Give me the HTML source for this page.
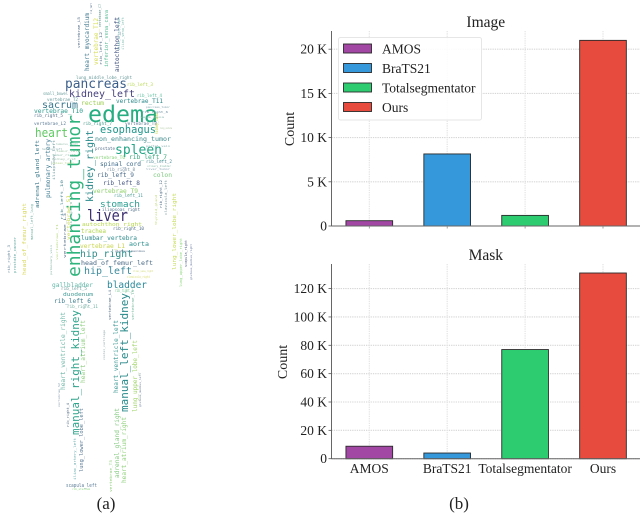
<!DOCTYPE html>
<html lang="en">
<head>
<meta charset="utf-8">
<title>Word cloud and dataset count charts</title>
<style>
html,body{margin:0;padding:0;background:#fff;}
#figure{position:relative;width:640px;height:513px;overflow:hidden;background:#fff;}
svg{position:absolute;left:0;top:0;}
#cloud text{font-family:"DejaVu Sans Mono","Liberation Mono",monospace;}
#charts text,.cap{font-family:"Liberation Serif",serif;fill:#222;}
</style>
</head>
<body>
<div id="figure">
<svg width="640" height="513" viewBox="0 0 640 513">
<defs>
<filter id="soft" filterUnits="userSpaceOnUse" x="0" y="0" width="640" height="513"><feGaussianBlur stdDeviation="0.35"/></filter>
<filter id="softer" filterUnits="userSpaceOnUse" x="0" y="0" width="640" height="513"><feGaussianBlur stdDeviation="0.25"/></filter>
</defs>
<g id="cloud" filter="url(#soft)">
<text transform="translate(88,122)" font-size="23" textLength="70" lengthAdjust="spacingAndGlyphs" fill="#27ad81">edema</text>
<text transform="translate(80,277) rotate(-90)" font-size="18" textLength="162" lengthAdjust="spacingAndGlyphs" fill="#2fb47c">enhancing_tumor</text>
<text transform="translate(65,88)" font-size="13" textLength="62" lengthAdjust="spacingAndGlyphs" fill="#3b5f8a">pancreas</text>
<text transform="translate(69,97)" font-size="10" textLength="66" lengthAdjust="spacingAndGlyphs" fill="#46407e">kidney_left</text>
<text transform="translate(42,108)" font-size="10" textLength="36" lengthAdjust="spacingAndGlyphs" fill="#35768c">sacrum</text>
<text transform="translate(81,105)" font-size="6" textLength="23" lengthAdjust="spacingAndGlyphs" fill="#9ccf50">rectum</text>
<text transform="translate(116,103)" font-size="6" textLength="47" lengthAdjust="spacingAndGlyphs" fill="#2f8a8c">vertebrae_T11</text>
<text transform="translate(34,113)" font-size="6" textLength="49" lengthAdjust="spacingAndGlyphs" fill="#2a9a8c">vertebrae_T10</text>
<text transform="translate(100,133)" font-size="11" textLength="56" lengthAdjust="spacingAndGlyphs" fill="#1f968b">esophagus</text>
<text transform="translate(35,137)" font-size="12" textLength="33" lengthAdjust="spacingAndGlyphs" fill="#5ec962">heart</text>
<text transform="translate(95,141)" font-size="6.5" textLength="76" lengthAdjust="spacingAndGlyphs" fill="#3f8a8c">non_enhancing_tumor</text>
<text transform="translate(115,154)" font-size="13" textLength="47" lengthAdjust="spacingAndGlyphs" fill="#21a585">spleen</text>
<text transform="translate(100,166)" font-size="6" textLength="41" lengthAdjust="spacingAndGlyphs" fill="#3c6a8a">spinal_cord</text>
<text transform="translate(129,159)" font-size="6" textLength="38" lengthAdjust="spacingAndGlyphs" fill="#3caa80">rib_left_7</text>
<text transform="translate(93,159)" font-size="4" textLength="32" lengthAdjust="spacingAndGlyphs" fill="#7ecf70">vertebrae_T6</text>
<text transform="translate(95,150)" font-size="4.5" textLength="20" lengthAdjust="spacingAndGlyphs" fill="#55708a">prostate</text>
<text transform="translate(127,86)" font-size="4.5" textLength="26" lengthAdjust="spacingAndGlyphs" fill="#b5d84b">rib_left_3</text>
<text transform="translate(137,97)" font-size="4.5" textLength="25" lengthAdjust="spacingAndGlyphs" fill="#60c0a0">rib_left_4</text>
<text transform="translate(43,95)" font-size="4" textLength="25" lengthAdjust="spacingAndGlyphs" fill="#70a0a0">small_bowel</text>
<text transform="translate(47,101)" font-size="4" textLength="31" lengthAdjust="spacingAndGlyphs" fill="#6a9a9a">vertebrae_T2</text>
<text transform="translate(34,117)" font-size="4.5" textLength="29" lengthAdjust="spacingAndGlyphs" fill="#55708a">rib_right_5</text>
<text transform="translate(34,125)" font-size="4.5" textLength="32" lengthAdjust="spacingAndGlyphs" fill="#5a7a95">vertebrae_L2</text>
<text transform="translate(83,125)" font-size="4.5" textLength="29" lengthAdjust="spacingAndGlyphs" fill="#4a9a8c">rib_right_7</text>
<text transform="translate(125,125)" font-size="4.5" textLength="32" lengthAdjust="spacingAndGlyphs" fill="#5a7a95">vertebrae_T8</text>
<text transform="translate(146,163)" font-size="4.5" textLength="26" lengthAdjust="spacingAndGlyphs" fill="#4a8a95">rib_left_2</text>
<text transform="translate(107,171)" font-size="4" textLength="28" lengthAdjust="spacingAndGlyphs" fill="#7a90a0">rib_right_8</text>
<text transform="translate(76,79)" font-size="4" textLength="56" lengthAdjust="spacingAndGlyphs" fill="#6a9a9a">lung_middle_lobe_right</text>
<text transform="translate(89,71) rotate(-90)" font-size="6" textLength="58" lengthAdjust="spacingAndGlyphs" fill="#3f7a90">heart_myocardium</text>
<text transform="translate(98,65) rotate(-90)" font-size="6" textLength="47" lengthAdjust="spacingAndGlyphs" fill="#d4dc50">vertebrae_T12</text>
<text transform="translate(108,67) rotate(-90)" font-size="5.3" textLength="57" lengthAdjust="spacingAndGlyphs" fill="#5cbf9a">inferior_vena_cava</text>
<text transform="translate(119,72) rotate(-90)" font-size="6" textLength="55" lengthAdjust="spacingAndGlyphs" fill="#3b4d7c">autochthon_left</text>
<text transform="translate(80,48) rotate(-90)" font-size="3.5" textLength="31" lengthAdjust="spacingAndGlyphs" fill="#55708a">vertebrae_L5</text>
<text transform="translate(120,50) rotate(-90)" font-size="3.2" textLength="33" lengthAdjust="spacingAndGlyphs" fill="#70b0b0">iliac_artery_right</text>
<text transform="translate(124,50) rotate(-90)" font-size="3.2" textLength="33" lengthAdjust="spacingAndGlyphs" fill="#80c0b0">iliac_vena_left</text>
<text transform="translate(102,65) rotate(-90)" font-size="3.2" textLength="33" lengthAdjust="spacingAndGlyphs" fill="#55708a">rib_left_12</text>
<text transform="translate(101,27) rotate(-90)" font-size="3.2" textLength="23" lengthAdjust="spacingAndGlyphs" fill="#55908a">vertebrae_C7</text>
<text transform="translate(92,14) rotate(-90)" font-size="3" textLength="11" lengthAdjust="spacingAndGlyphs" fill="#55708a">rib_left</text>
<text transform="translate(39,208) rotate(-90)" font-size="5.5" textLength="68" lengthAdjust="spacingAndGlyphs" fill="#3a7a8c">adrenal_gland_left</text>
<text transform="translate(50,198) rotate(-90)" font-size="6" textLength="59" lengthAdjust="spacingAndGlyphs" fill="#3e7a90">pulmonary_artery</text>
<text transform="translate(55,180) rotate(-90)" font-size="3.5" textLength="40" lengthAdjust="spacingAndGlyphs" fill="#6a9aa0">iliopsoas_left</text>
<text transform="translate(93,202) rotate(-90)" font-size="10" textLength="72" lengthAdjust="spacingAndGlyphs" fill="#2a8a8c">kidney_right</text>
<text transform="translate(158,134) rotate(-90)" font-size="4" textLength="22" lengthAdjust="spacingAndGlyphs" fill="#c8d64a">kidney_tumor</text>
<text transform="translate(97,177)" font-size="6" textLength="37" lengthAdjust="spacingAndGlyphs" fill="#4a6a8a">rib_left_9</text>
<text transform="translate(103,185)" font-size="6" textLength="37" lengthAdjust="spacingAndGlyphs" fill="#4a5a85">rib_left_8</text>
<text transform="translate(153,177)" font-size="6" textLength="19" lengthAdjust="spacingAndGlyphs" fill="#7fc97f">colon</text>
<text transform="translate(93,193)" font-size="6" textLength="45" lengthAdjust="spacingAndGlyphs" fill="#8fd06a">vertebrae_T9</text>
<text transform="translate(114,197)" font-size="4" textLength="29" lengthAdjust="spacingAndGlyphs" fill="#4a9a95">rib_left_11</text>
<text transform="translate(100,207)" font-size="9" textLength="40" lengthAdjust="spacingAndGlyphs" fill="#2a9d8f">stomach</text>
<text transform="translate(102,211)" font-size="4" textLength="38" lengthAdjust="spacingAndGlyphs" fill="#55708a">iliopsoas_right</text>
<text transform="translate(87,221)" font-size="16" textLength="41" lengthAdjust="spacingAndGlyphs" fill="#3b2f6e">liver</text>
<text transform="translate(82,226)" font-size="5.5" textLength="60" lengthAdjust="spacingAndGlyphs" fill="#b5d84b">autochthon_right</text>
<text transform="translate(81,233)" font-size="6" textLength="25" lengthAdjust="spacingAndGlyphs" fill="#b0d64a">trachea</text>
<text transform="translate(113,230)" font-size="4" textLength="31" lengthAdjust="spacingAndGlyphs" fill="#55708a">rib_right_10</text>
<text transform="translate(81,240)" font-size="5.7" textLength="56" lengthAdjust="spacingAndGlyphs" fill="#2e8a8c">lumbar_vertebra</text>
<text transform="translate(80,248)" font-size="6" textLength="45" lengthAdjust="spacingAndGlyphs" fill="#c8d64a">vertebrae_L1</text>
<text transform="translate(129,246)" font-size="6" textLength="20" lengthAdjust="spacingAndGlyphs" fill="#2a8f8c">aorta</text>
<text transform="translate(80,257)" font-size="10" textLength="53" lengthAdjust="spacingAndGlyphs" fill="#2f8f8c">hip_right</text>
<text transform="translate(81,265)" font-size="6.5" textLength="72" lengthAdjust="spacingAndGlyphs" fill="#4a6a85">head_of_femur_left</text>
<text transform="translate(84,274)" font-size="10" textLength="48" lengthAdjust="spacingAndGlyphs" fill="#3a8a9c">hip_left</text>
<text transform="translate(107,288)" font-size="9.5" textLength="40" lengthAdjust="spacingAndGlyphs" fill="#2a8a9c">bladder</text>
<text transform="translate(52,287)" font-size="6" textLength="41" lengthAdjust="spacingAndGlyphs" fill="#60b8a8">gallbladder</text>
<text transform="translate(61,290)" font-size="4" textLength="26" lengthAdjust="spacingAndGlyphs" fill="#6a9a9a">rib_left_5</text>
<text transform="translate(63,296)" font-size="5" textLength="30" lengthAdjust="spacingAndGlyphs" fill="#3f9a95">duodenum</text>
<text transform="translate(54,303)" font-size="6" textLength="37" lengthAdjust="spacingAndGlyphs" fill="#3f7f90">rib_left_6</text>
<text transform="translate(67,308)" font-size="4" textLength="31" lengthAdjust="spacingAndGlyphs" fill="#70b0a0">rib_right_11</text>
<text transform="translate(127,278)" font-size="3.5" textLength="23" lengthAdjust="spacingAndGlyphs" fill="#dbe07a">clavicula_right</text>
<text transform="translate(115,292)" font-size="4" textLength="18" lengthAdjust="spacingAndGlyphs" fill="#6cc58a">rib_right_1</text>
<text transform="translate(26,275) rotate(-90)" font-size="5.6" textLength="72" lengthAdjust="spacingAndGlyphs" fill="#d8d860">head_of_femur_right</text>
<text transform="translate(16,273) rotate(-90)" font-size="3.5" textLength="36" lengthAdjust="spacingAndGlyphs" fill="#60a8a0">prostate_cancer</text>
<text transform="translate(10,273) rotate(-90)" font-size="3.5" textLength="28" lengthAdjust="spacingAndGlyphs" fill="#6a8aa0">rib_right_3</text>
<text transform="translate(33,240) rotate(-90)" font-size="3.2" textLength="36" lengthAdjust="spacingAndGlyphs" fill="#70b0a0">manual_left_lung</text>
<text transform="translate(176,270) rotate(-90)" font-size="5" textLength="77" lengthAdjust="spacingAndGlyphs" fill="#c5dc5a">lung_lower_lobe_right</text>
<text transform="translate(182,287) rotate(-90)" font-size="3.8" textLength="49" lengthAdjust="spacingAndGlyphs" fill="#90d880">lung_upper_lobe_right</text>
<text transform="translate(187,267) rotate(-90)" font-size="3.8" textLength="27" lengthAdjust="spacingAndGlyphs" fill="#4a5a85">scapula_right</text>
<text transform="translate(192,280) rotate(-90)" font-size="2.8" textLength="36" lengthAdjust="spacingAndGlyphs" fill="#6a7aa0">gluteus_medius_right</text>
<text transform="translate(162,208) rotate(-90)" font-size="3.5" textLength="28" lengthAdjust="spacingAndGlyphs" fill="#55708a">rib_right_12</text>
<text transform="translate(167,215) rotate(-90)" font-size="3.5" textLength="35" lengthAdjust="spacingAndGlyphs" fill="#7a9aa0">clavicula_left</text>
<text transform="translate(157,225) rotate(-90)" font-size="2.8" textLength="30" lengthAdjust="spacingAndGlyphs" fill="#bcd870">thyroid_gland</text>
<text transform="translate(63,220) rotate(-90)" font-size="3.5" textLength="40" lengthAdjust="spacingAndGlyphs" fill="#4a8a95">rib_left_10</text>
<text transform="translate(66,258) rotate(-90)" font-size="3.5" textLength="45" lengthAdjust="spacingAndGlyphs" fill="#55708a">vertebrae_L3</text>
<text transform="translate(70,240) rotate(-90)" font-size="4" textLength="45" lengthAdjust="spacingAndGlyphs" fill="#c8d64a">vertebrae_S1</text>
<text transform="translate(111,320) rotate(-90)" font-size="3.2" textLength="30" lengthAdjust="spacingAndGlyphs" fill="#55708a">vertebrae_L4</text>
<text transform="translate(134,320) rotate(-90)" font-size="3.2" textLength="30" lengthAdjust="spacingAndGlyphs" fill="#7ab8a0">vertebrae_T3</text>
<text transform="translate(128,412) rotate(-90)" font-size="11" textLength="119" lengthAdjust="spacingAndGlyphs" fill="#2a8a8c">manual_left_kidney</text>
<text transform="translate(79,435) rotate(-90)" font-size="11" textLength="125" lengthAdjust="spacingAndGlyphs" fill="#2fa58c">manual_right_kidney</text>
<text transform="translate(65,390) rotate(-90)" font-size="6" textLength="78" lengthAdjust="spacingAndGlyphs" fill="#70b8a8">heart_ventricle_right</text>
<text transform="translate(118,393) rotate(-90)" font-size="6" textLength="73" lengthAdjust="spacingAndGlyphs" fill="#3f9a95">heart_ventricle_left</text>
<text transform="translate(85,383) rotate(-90)" font-size="6" textLength="63" lengthAdjust="spacingAndGlyphs" fill="#90d080">heart_atrium_left</text>
<text transform="translate(137,412) rotate(-90)" font-size="6" textLength="72" lengthAdjust="spacingAndGlyphs" fill="#a0d468">lung_upper_lobe_left</text>
<text transform="translate(119,478) rotate(-90)" font-size="6" textLength="70" lengthAdjust="spacingAndGlyphs" fill="#7ec87a">adrenal_gland_right</text>
<text transform="translate(126,483) rotate(-90)" font-size="6" textLength="66" lengthAdjust="spacingAndGlyphs" fill="#8fd07a">heart_atrium_right</text>
<text transform="translate(83,472) rotate(-90)" font-size="5.5" textLength="64" lengthAdjust="spacingAndGlyphs" fill="#5a7a95">lung_lower_lobe_left</text>
<text transform="translate(76,480) rotate(-90)" font-size="3.6" textLength="42" lengthAdjust="spacingAndGlyphs" fill="#70b0b0">iliac_artery_left</text>
<text transform="translate(69,427) rotate(-90)" font-size="3.5" textLength="24" lengthAdjust="spacingAndGlyphs" fill="#55708a">rib_right_4</text>
<text transform="translate(112,492) rotate(-90)" font-size="3.6" textLength="32" lengthAdjust="spacingAndGlyphs" fill="#8fd07a">vertebrae_T5</text>
<text transform="translate(66,487)" font-size="5" textLength="31" lengthAdjust="spacingAndGlyphs" fill="#5a7a95">scapula_left</text>
<text transform="translate(72,490)" font-size="2.8" textLength="18" lengthAdjust="spacingAndGlyphs" fill="#90d880">rib_sternum</text>
<text transform="translate(42,150)" font-size="3" textLength="20" lengthAdjust="spacingAndGlyphs" fill="#90b0b0">humerus_left</text>
<text transform="translate(56,145)" font-size="3" textLength="22" lengthAdjust="spacingAndGlyphs" fill="#9ac0b0">humerus_right</text>
<text transform="translate(56,152)" font-size="3" textLength="24" lengthAdjust="spacingAndGlyphs" fill="#a0c8a8">femur_left</text>
<text transform="translate(146,147)" font-size="3" textLength="24" lengthAdjust="spacingAndGlyphs" fill="#8ab0b0">portal_vein</text>
<text transform="translate(147,167)" font-size="3" textLength="24" lengthAdjust="spacingAndGlyphs" fill="#90c0b0">urinary_bladder</text>
<text transform="translate(115,252)" font-size="3" textLength="30" lengthAdjust="spacingAndGlyphs" fill="#55708a">gluteus_maximus</text>
<text transform="translate(133,272)" font-size="3" textLength="20" lengthAdjust="spacingAndGlyphs" fill="#d0d870">iliac_vena_right</text>
<text transform="translate(52,156)" font-size="3" textLength="24" lengthAdjust="spacingAndGlyphs" fill="#8ab8a8">femur_right</text>
<text transform="translate(52,160)" font-size="3" textLength="24" lengthAdjust="spacingAndGlyphs" fill="#a0c0b0">kidney_cyst</text>
<text transform="translate(52,164)" font-size="3" textLength="22" lengthAdjust="spacingAndGlyphs" fill="#b8d890">spleen_tumor</text>
<text transform="translate(146,108)" font-size="3" textLength="24" lengthAdjust="spacingAndGlyphs" fill="#8aa8b0">pancreas_tumor</text>
<text transform="translate(142,113)" font-size="3" textLength="26" lengthAdjust="spacingAndGlyphs" fill="#6a8aa0">rib_right_6</text>
<text transform="translate(140,118)" font-size="3" textLength="24" lengthAdjust="spacingAndGlyphs" fill="#90b8b0">vena_cava</text>
<text transform="translate(160,129)" font-size="3" textLength="12" lengthAdjust="spacingAndGlyphs" fill="#b0c8a0">lung_nodule</text>
<text transform="translate(146,170)" font-size="3" textLength="24" lengthAdjust="spacingAndGlyphs" fill="#90a8b8">liver_tumor</text>
<text transform="translate(141,407) rotate(-90)" font-size="2.8" textLength="34" lengthAdjust="spacingAndGlyphs" fill="#6a7aa0">gluteus_medius_left</text>
<text transform="translate(60,407) rotate(-90)" font-size="2.8" textLength="24" lengthAdjust="spacingAndGlyphs" fill="#8aa0b0">vertebrae_S2</text>
<text transform="translate(72,228) rotate(-90)" font-size="3" textLength="26" lengthAdjust="spacingAndGlyphs" fill="#80b8a8">rib_right_9</text>
<text transform="translate(58,260) rotate(-90)" font-size="3" textLength="36" lengthAdjust="spacingAndGlyphs" fill="#b8d880">vertebrae_T1</text>
<text transform="translate(52,275) rotate(-90)" font-size="3" textLength="30" lengthAdjust="spacingAndGlyphs" fill="#88b8a8">pulmonary_vein</text>
<text transform="translate(105,360) rotate(-90)" font-size="3" textLength="30" lengthAdjust="spacingAndGlyphs" fill="#90a8b0">costal_cartilage</text>
</g>
<g id="charts" filter="url(#softer)"></g>
<text class="cap" x="106" y="509" font-size="17" text-anchor="middle">(a)</text>
<text class="cap" x="459" y="509" font-size="17" text-anchor="middle">(b)</text>
</svg>
</div>
<script>
const categories = ["AMOS", "BraTS21", "Totalsegmentator", "Ours"];
const barColors = ["#a347a5", "#3498db", "#2ecc71", "#e74c3c"];
const imageCounts = [600, 8150, 1200, 21000];
const maskCounts = [8800, 4000, 77000, 131000];
const imageTicks = [0, 5000, 10000, 15000, 20000];
const maskTicks = [0, 20000, 40000, 60000, 80000, 100000, 120000];

const NS = "http://www.w3.org/2000/svg";
const root = document.getElementById("charts");

function make(parent, tag, attrs, content) {
  const el = document.createElementNS(NS, tag);
  for (const k in attrs) el.setAttribute(k, attrs[k]);
  if (content !== undefined) el.textContent = content;
  parent.appendChild(el);
  return el;
}
function tickLabel(v) {
  return v === 0 ? "0" : (v / 1000) + " K";
}
function xScale(i) {
  return 369.3 + i * 77.9;
}
const barWidth = 46.7;
const axisLeft = 331.5;
const axisRight = 640;

function drawPanel(panel) {
  const y = v => panel.bottom - (v / panel.unit) * panel.unitPx;
  const g = make(root, "g", {});
  
  

  panel.ticks.forEach(v => {
    const line = make(g, "line", {x1: axisLeft, x2: axisRight, y1: y(v), y2: y(v), stroke: "#d6d6d6", "stroke-width": 1.1, "stroke-dasharray": "1.3 1"});
    
    
  });
  categories.forEach((c, i) => {
    const line = make(g, "line", {x1: xScale(i), x2: xScale(i), y1: panel.top, y2: panel.bottom, stroke: "#e2e2e2", "stroke-width": 1.1, "stroke-dasharray": "1.3 1"});
    
    
  });
  panel.values.forEach((v, i) => {
    const bar = make(g, "rect", {x: xScale(i) - barWidth / 2, y: y(v), width: barWidth, height: panel.bottom - y(v), fill: barColors[i], stroke: "#2b2b2b", "stroke-width": 0.9});
    
    
  });
  const yAxis = make(g, "line", {x1: axisLeft, x2: axisLeft, y1: panel.top, y2: panel.bottom, stroke: "#666", "stroke-width": 1});
  
  
  const xAxis = make(g, "line", {x1: axisLeft, x2: axisRight, y1: panel.bottom, y2: panel.bottom, stroke: "#666", "stroke-width": 1});
  
  

  panel.ticks.forEach(v => {
    const tick = make(g, "line", {x1: axisLeft - 3, x2: axisLeft, y1: y(v), y2: y(v), stroke: "#555", "stroke-width": 0.8});
    
    
    const label = make(g, "text", {x: axisLeft - 4.5, y: y(v) + 4.5, "font-size": 13.5, "text-anchor": "end"}, tickLabel(v));
    
    
  });
  categories.forEach((c, i) => {
    if (panel.showCategories) {
      const label = make(g, "text", {x: xScale(i), y: panel.bottom + 14.5, "font-size": 13.5, "text-anchor": "middle"}, c);
      
      
    } else {
      const tick = make(g, "line", {x1: xScale(i), x2: xScale(i), y1: panel.bottom, y2: panel.bottom + 2.5, stroke: "#888", "stroke-width": 0.8});
      
      
    }
  });
  const title = make(g, "text", {x: 485.8, y: panel.titleY, "font-size": 15.5, "text-anchor": "middle"}, panel.title);
  
  
  const yTitle = make(g, "text", {transform: "translate(" + panel.yTitleX + "," + panel.yTitleY + ") rotate(-90)", "font-size": 14, "text-anchor": "middle"}, "Count");
  
  
}

drawPanel({key: "image", title: "Image", values: imageCounts, ticks: imageTicks, unit: 5000, unitPx: 44.2, top: 31, bottom: 226, titleY: 27, yTitleX: 294, yTitleY: 129, showCategories: false});
drawPanel({key: "mask", title: "Mask", values: maskCounts, ticks: maskTicks, unit: 20000, unitPx: 28.35, top: 264, bottom: 458.7, titleY: 260, yTitleX: 287, yTitleY: 362, showCategories: true});

const legend = make(root, "g", {});


const legendBox = make(legend, "rect", {x: 338.5, y: 37.5, width: 143, height: 82.5, rx: 2, fill: "#ffffff", "fill-opacity": 0.9, stroke: "#e6e6e6", "stroke-width": 1});


categories.forEach((c, i) => {
  const rowY = 44 + i * 19.5;
  const swatch = make(legend, "rect", {x: 343.5, y: rowY, width: 28, height: 9, fill: barColors[i], stroke: "#2b2b2b", "stroke-width": 0.9});
  
  
  const label = make(legend, "text", {x: 382, y: rowY + 9.5, "font-size": 13.5}, c);
  
  
});
</script>
</body>
</html>
